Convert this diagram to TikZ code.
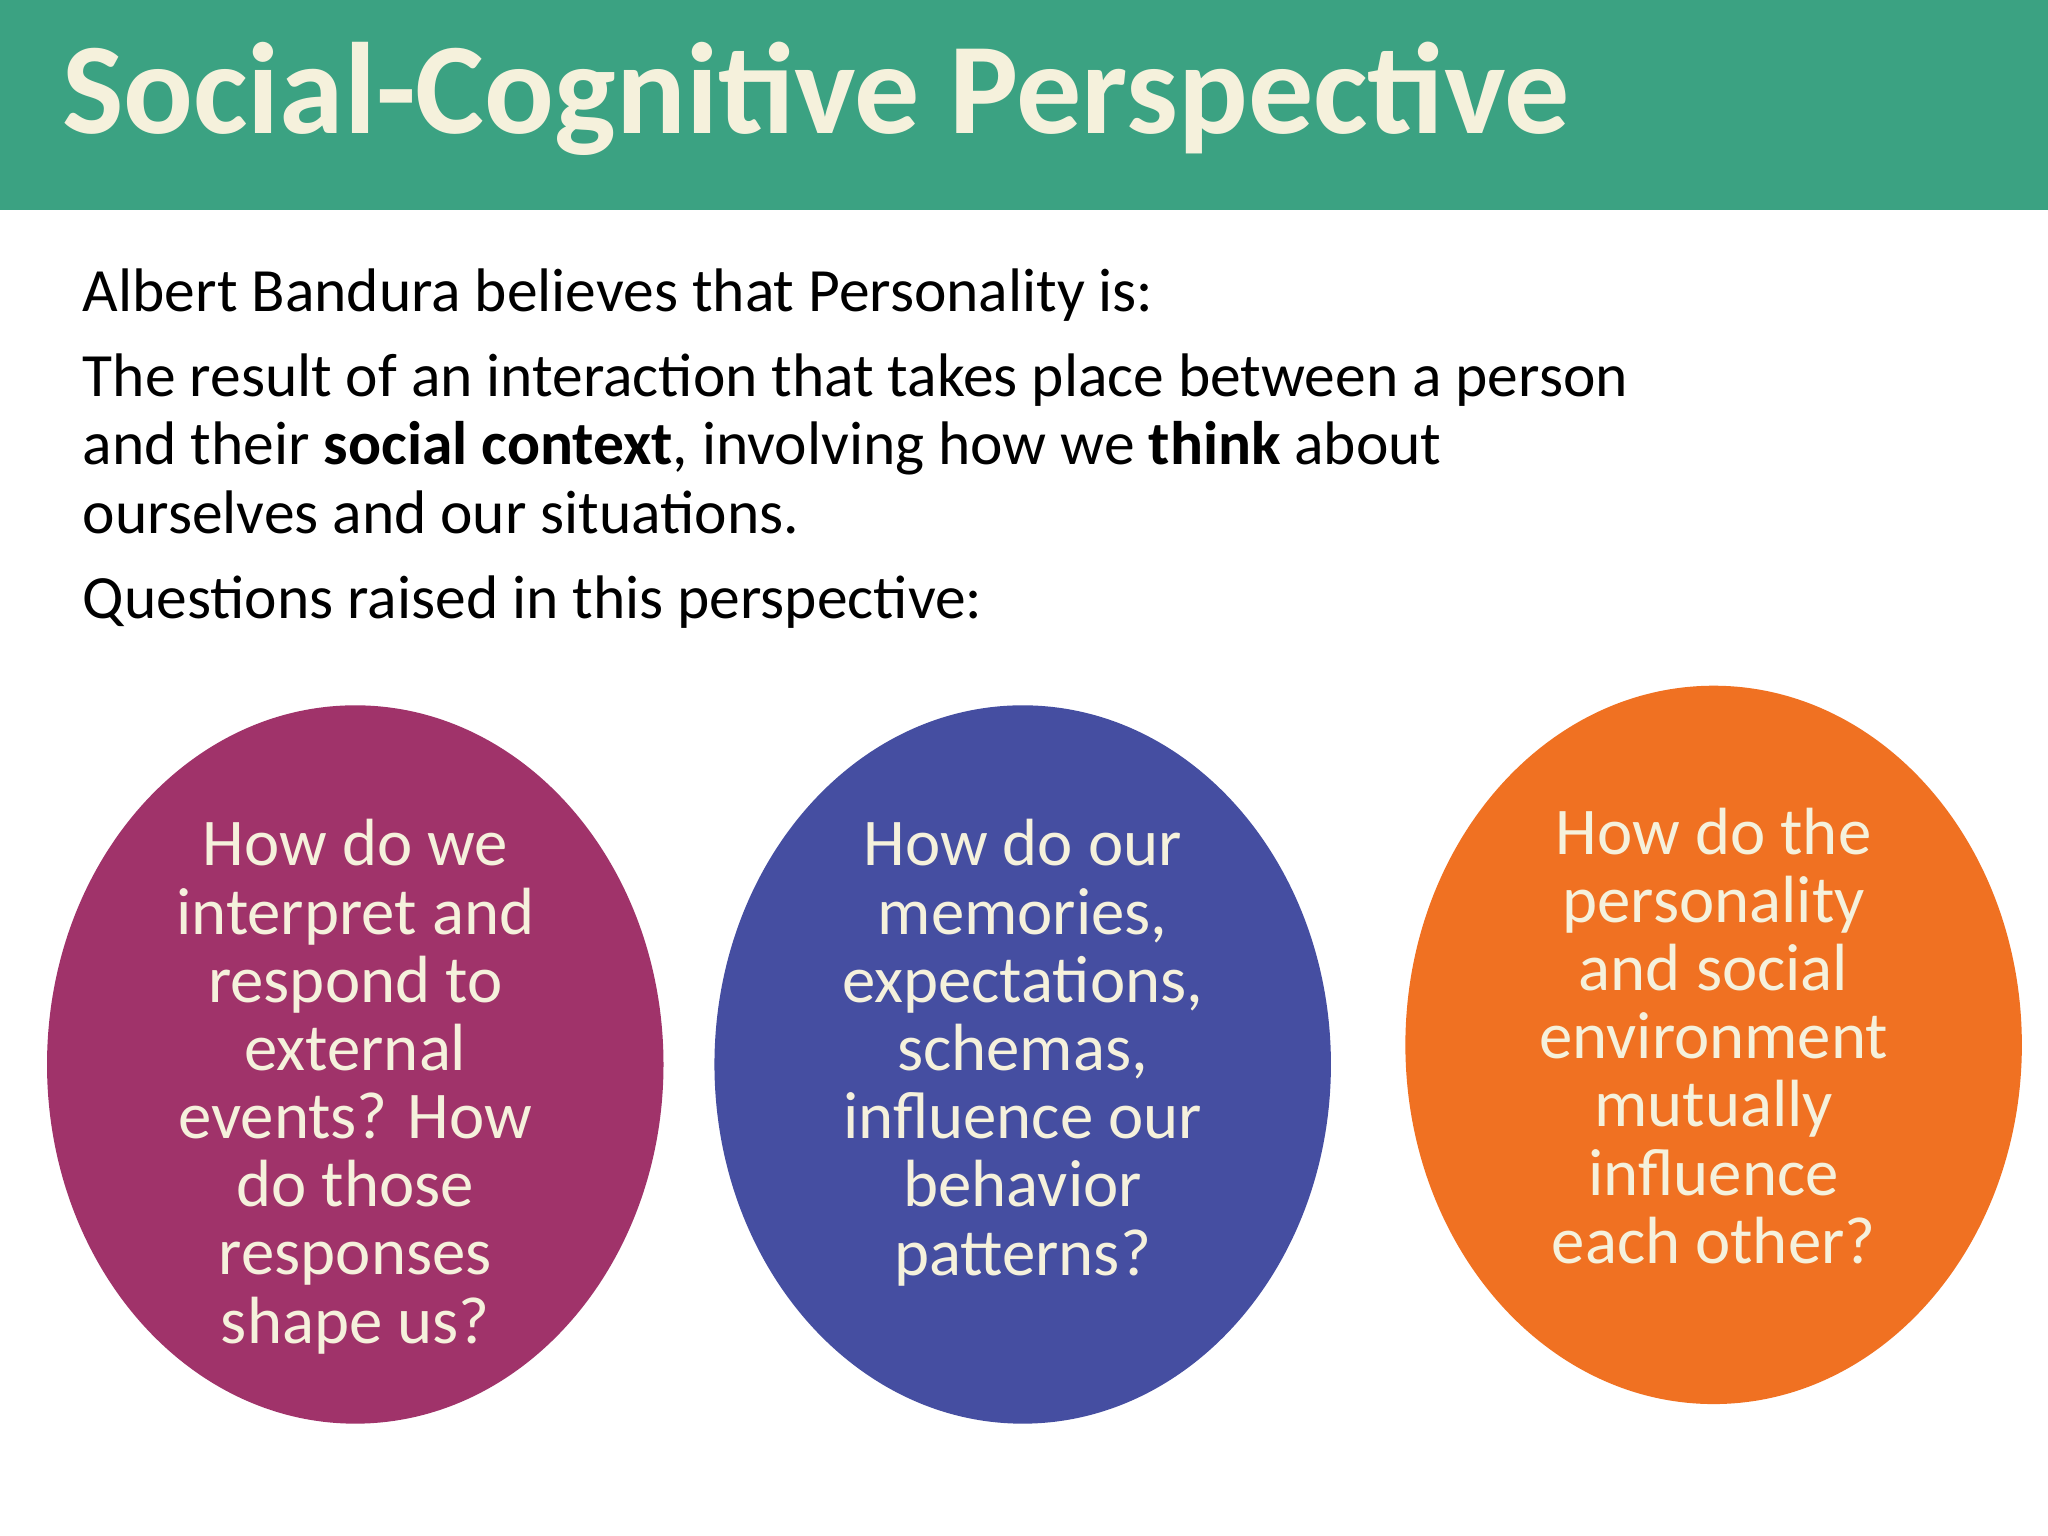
\documentclass[tikz,border=0pt]{standalone}
\usepackage{fontspec}
\setmainfont{Carlito}
\usetikzlibrary{shapes.geometric}
\definecolor{titlegreen}{HTML}{3BA282}
\definecolor{cream}{HTML}{F5F1DC}
\definecolor{cmag}{HTML}{A0336A}
\definecolor{cblue}{HTML}{454EA1}
\definecolor{corange}{HTML}{F07122}
\begin{document}
\begin{tikzpicture}[x=0.013061cm,y=-0.013061cm,
  body/.style={anchor=north west,inner sep=0pt,font=\fontsize{17.5pt}{19.6pt}\selectfont,align=left},
  bubble/.style={text=cream,align=center,inner sep=0pt,font=\fontsize{19pt}{19.4pt}\selectfont}]
\useasboundingbox (0,0) rectangle (1568,1176);
\fill[white] (0,0) rectangle (1568,1176);
\fill[titlegreen] (0,0) rectangle (1568,161);
\node[anchor=west,text=cream,inner sep=0pt,font=\fontsize{37pt}{40pt}\selectfont\bfseries] (title) at (47,76) {Social-Cognitive Perspective};
\node[body] (t1) at (63,205) {Albert Bandura believes that Personality is:};
\node[body] (t2) at (63,270) {The result of an interaction that takes place between a person\\and their \textbf{social context}, involving how we \textbf{think} about\\ourselves and our situations.};
\node[body] (t3) at (63,440) {Questions raised in this perspective:};
\fill[cmag] (272,815) ellipse [x radius=236, y radius=275];
\fill[cblue] (783,815) ellipse [x radius=236, y radius=275];
\fill[corange] (1312,800) ellipse [x radius=236, y radius=275];
\node[bubble] (b1) at (272,832) {How do we\\interpret and\\respond to\\external\\events? How\\do those\\responses\\shape us?};
\node[bubble] (b2) at (783,806) {How do our\\memories,\\expectations,\\schemas,\\influence our\\behavior\\patterns?};
\node[bubble] (b3) at (1312,793) {How do the\\personality\\and social\\environment\\mutually\\influence\\each other?};
\end{tikzpicture}
\end{document}
